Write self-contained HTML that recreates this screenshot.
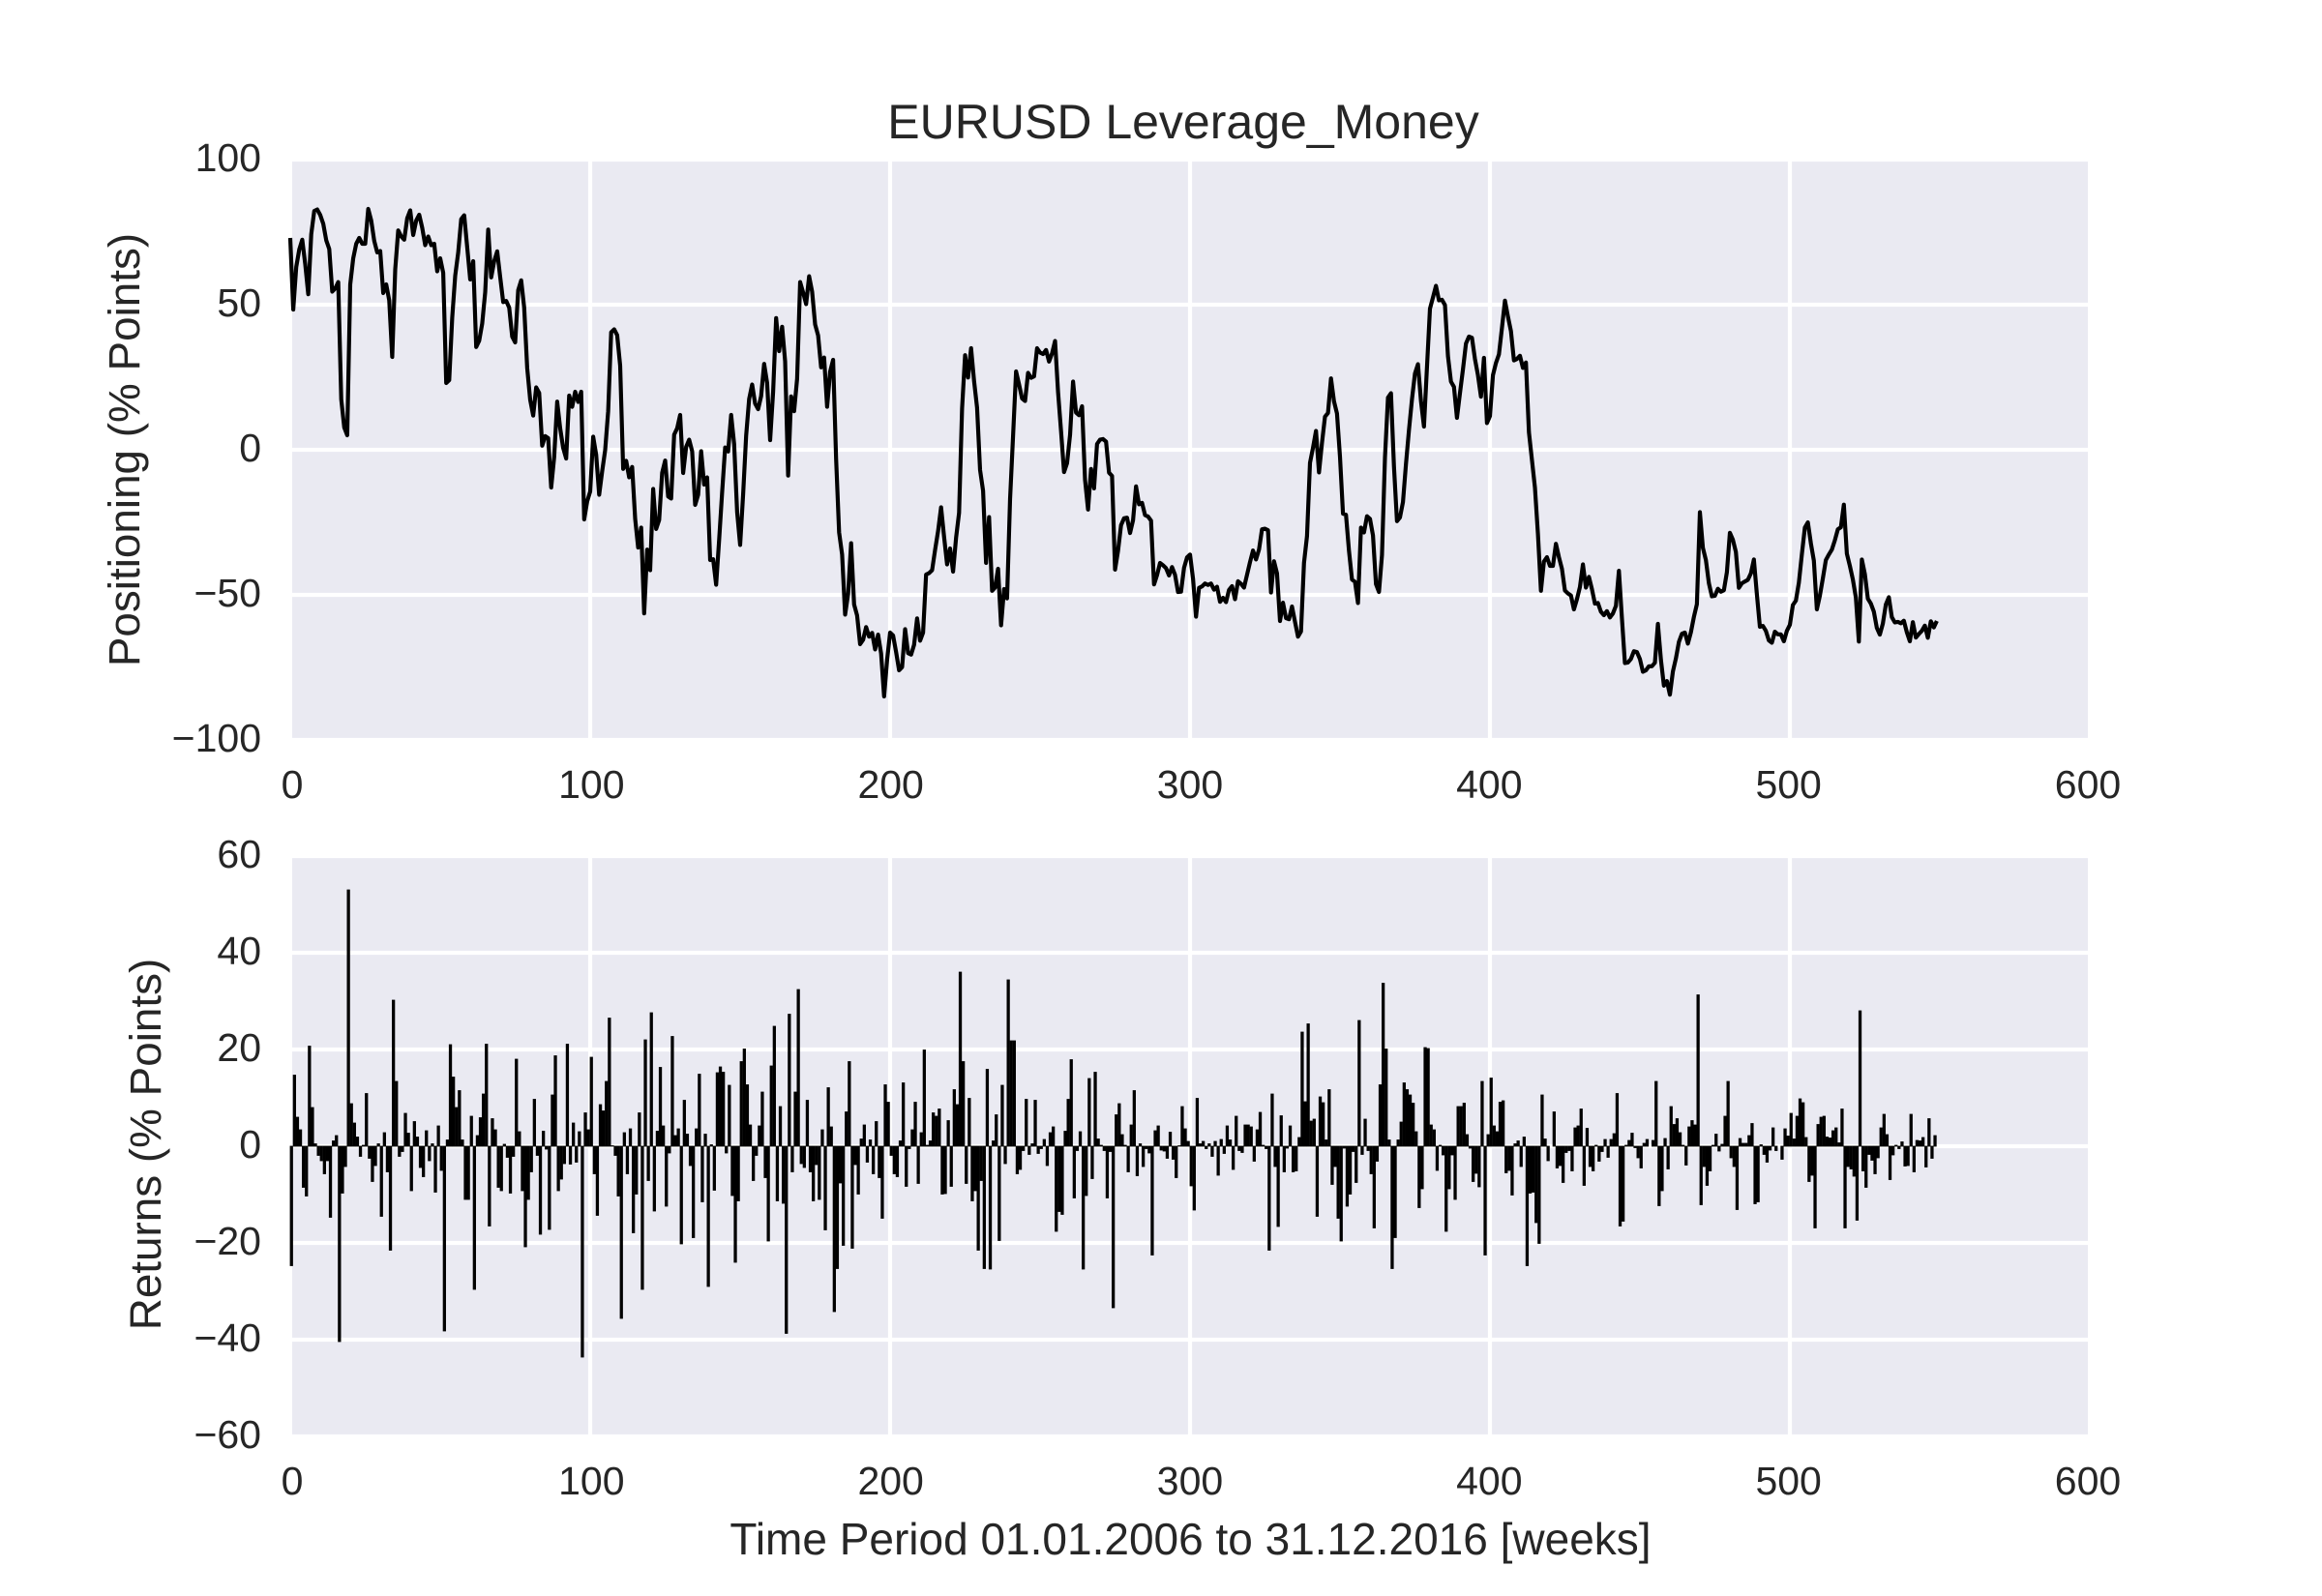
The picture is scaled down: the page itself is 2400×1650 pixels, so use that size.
<!DOCTYPE html>
<html lang="en">
<head>
<meta charset="utf-8">
<title>EURUSD Leverage_Money</title>
<style>
html,body{margin:0;padding:0;background:#fff;}
body{width:2400px;height:1650px;overflow:hidden;}
svg{display:block;}
text{font-family:"Liberation Sans",Arial,sans-serif;fill:#262626;}
</style>
</head>
<body>
<svg id="chart" xmlns="http://www.w3.org/2000/svg" width="2400" height="1650" viewBox="0 0 2400 1650">
  <rect x="0" y="0" width="2400" height="1650" fill="#ffffff"/>
  <text x="1223" y="143" font-size="50" text-anchor="middle">EURUSD Leverage_Money</text>
  <text transform="translate(144,465) rotate(-90)" font-size="45.83" text-anchor="middle">Positioning (% Points)</text>
  <text transform="translate(166,1183) rotate(-90)" font-size="45.83" text-anchor="middle">Returns (% Points)</text>
  <text x="1230.5" y="1607" font-size="46" text-anchor="middle">Time Period 01.01.2006 to 31.12.2016 [weeks]</text>
  <g id="top-axes"></g>
  <g id="bottom-axes"></g>
</svg>
<script>
const xTickValues = [0,100,200,300,400,500,600];
const topYTickValues = [100,50,0,-50,-100];
const bottomYTickValues = [60,40,20,0,-20,-40,-60];

const positioning = [
73,48.3,63,69,72.4,63.9,53.6,74.3,82.3,82.8,80.9,77.9,72.2,69.2,54.5,55.6,57.8,17.4,7.7,5,57,66,71,73,71,71,83,79,72,68,68.5,54,57,51.5,32,
62.2,75.6,73.5,72.4,79.8,82.5,74,79,81,76.5,70.5,73.5,70.5,71,61.5,66,61,23,24,45.5,60,68,79.5,80.8,69.8,58.7,65,35.4,37.6,43.5,54.3,75.9,59.4,65,68.4,59.5,50.9,51.3,49,39,37,55,58.4,49,28.2,17.2,11.8,21.5,19.6,1.4,4.7,4,-13,-2.5,16.6,7.4,0.6,-3,
18.7,14.8,20,16.5,20,-24,-17.8,-14.4,4.5,-1.7,-15.5,-7.4,-0.1,13.3,40.5,41.5,39.5,29,-6.6,-3.8,-9.5,-5.9,-23.8,-33.7,-26.8,-56.4,-34.4,-41.5,-13.5,-27.3,-24.2,-7.9,-3.7,-16.1,-16.8,5.2,7.4,12,-8,1,3.5,-0.5,-19,-15.5,-0.5,-12,-9.5,-38,-37.7,-46.5,-31,-14.6,0.8,-0.6,12,2,-21.5,-32.8,-15.3,4.8,17.5,22.5,15.9,
14,18.5,29.6,23,3.3,20,45.4,34,42.4,30.5,-8.9,18.4,13.3,24.5,57.8,54.2,50.2,59.8,54.5,43.2,39.4,28.4,31.8,14.8,26.9,31,-3.2,-28.5,-36.1,-56.8,
-49.7,-32.2,-53.3,-57.1,-67,-65.5,-61.1,-64.4,-63.1,-68.8,-63.7,-70.2,-85,-72.4,-63,-64,-69.7,-76,-74.9,-61.8,-70.1,-70.6,-67.2,-58.1,-65.8,-63,-43,-42.5,-41.5,-34.5,-28,-19.8,-30,-39.5,-34,-42,-30.3,-21.7,14.3,32.6,24.9,35,23.7,14.5,-7,-14.1,-39,-23.2,-48.6,-47.5,-41,-60.5,-48,-51.2,-17,4.8,27,22.5,17.7,16.8,26.5,24.8,25.3,35,33.5,33,34.4,30.4,33.2,37.5,19.9,6.4,-7.7,-4.6,5.1,23.5,12.8,11.9,15,-10.4,-20.6,-6.6,-13.3,2,3.5,3.7,2.8,-7.9,-9,-41.3,
-34.8,-26,-23.6,-23.4,-28.7,-24.3,-12.6,-18.8,-18.3,-22.5,-23,-24.4,-46.4,-43.2,-39,-39.8,-40.8,-43.3,-40.4,-43.1,-49,-48.9,-40.7,-37.1,-36.1,-44.4,-57.5,-47.6,-47.1,-46.1,-46.6,-46.1,-48.2,-47.2,-52.4,-51,-52.5,-48.3,-47,-51.5,-45.3,-46.2,-47.5,-43.1,-38.7,-34.7,-37.8,-34.4,-27.4,-27.2,-27.7,-49.2,-38.4,-42.6,-59,-52.7,-58,-58.4,-54,-59.3,-64.4,-62.6,-39,-29.8,-4.5,0.7,6.5,-7.8,2.4,11.4,12.7,24.6,16.7,12.5,-2.4,-22,-22.4,-34.8,-44.7,-45.5,-52.8,-26.8,-28.5,-22.9,-23.8,-29.5,-46.3,-49,-36.3,-2.6,18,19.5,-5.8,-24.6,-23.3,-18,-4.9,6.8,17.4,26.3,29.5,16.8,8,28.4,48.6,52.5,56.5,
51.5,51.7,49.9,32.3,23.5,21.7,11,19.5,27.7,36.6,39,38.6,31.3,25.7,18.3,31.7,9.2,11.6,25.7,29.9,32.9,42,51.4,45.9,40.9,30.8,31.3,32.4,28.2,30.1,6,-3.5,-13,-29,-48.6,-38.5,-37,-40,-40,-32.4,-37,-41,-48.5,-49.5,-50.2,-55,-51.5,-47.3,-39.5,-47.5,-43.8,-48,-53,-52.8,-55.8,-57,-55.6,-57.8,-56.4,-53.8,-41.7,-58,-73.5,-73.3,-72.1,-69.4,-69.7,-72.1,-76.5,-76,-74.6,-74.6,-73.4,-60,-72.3,-81.3,-79.7,-84.4,-76.4,-71.9,-66.2,-63.4,-63,-66.8,-62.9,-57.6,-53.2,-21.5,-33.8,-38,-46,-50.5,-50.3,-47.9,-48.9,-48.4,-42.2,-28.6,-31,-35.2,-47.6,-46,-45.4,-44.8,-42.6,-37.8,-49.8,-61,-60.7,-62.4,-65.7,-66.5,-62.7,-63.6,-63.6,-66,-62.4,-60.3,-53.5,-52,-45.8,-36,-26.8,-25,-32.2,-38.2,-55,-50.3,-44.3,-38,-36.1,-34.4,-31.2,-27.4,-26.7,-18.9,-35.8,-40,-44.7,-50.9,-66.1,-37.8,-42.8,-51.3,-53,-55.8,-61.4,-63.7,-59.9,-53.3,-50.8,-57.7,-59.5,-59.3,-59.8,-58.9,-62.9,-66,-59.4,-64.7,-63.5,-62.4,-60.6,-64.8,-59.1,-61.2,-59
];

const returnsPct = [
-24.7,14.7,6,3.4,-8.5,-10.3,20.7,8,0.5,-1.9,
-3,-5.7,-3,-14.7,1.1,2.2,-40.4,-9.7,-4.2,53,
8.8,4.8,1.9,-2.1,0.2,10.9,-2.5,-7.3,-4,0.5,
-14.5,2.8,-5.3,-21.5,30.2,13.4,-2.1,-1.1,6.8,2.7,
-9.2,5.1,1.9,-4.4,-6.3,3.2,-3,0.5,-9.5,4.2,
-5,-38.2,1.3,21,14.3,8,11.5,1.3,-11,-11,
6.2,-29.6,2.2,5.9,10.8,21.1,-16.5,5.7,3.4,-8.5,
-9.2,0.4,-2.3,-9.7,-2.1,18,3,-9.2,-20.8,-11,
-5.3,9.7,-1.9,-18.2,3.1,-0.6,-17.2,10.6,18.7,-9.2,
-6.8,-3.6,21.1,-3.7,4.8,-3.3,3,-43.6,6.9,3.4,
18.4,-5.7,-14.3,8.6,7.3,13.4,26.5,0.1,-1.9,-10.3,
-35.6,2.8,-5.7,3.6,-17.9,-9.9,6.9,-29.6,22,-7.1,
27.6,-13.4,3.1,16.3,4.2,-12.4,-1.4,22.7,2.2,3.6,
-20.2,9.5,2.5,-4,-18.9,3.6,14.9,-11.5,2.5,-29,
0.3,-9.1,15.2,16.4,15.3,-1.4,12.6,-10.2,-24,-11.3,
17.5,20.1,12.7,4.4,-7.1,-1.9,4.2,11.2,-6.5,-19.6,
16.6,24.8,-11.3,8.2,-11.8,-38.7,27.3,-5.3,11.2,32.4,
-3.6,-4.4,9.5,-5.3,-11.3,-3.8,-11,3.4,-17.3,12.1,
4,-34.2,-25.3,-7.6,-20.5,7.1,17.5,-21.1,-3.8,-9.9,
1.5,4.4,-3.3,1.3,-5.7,5.1,-6.5,-14.9,12.7,9.1,
-1.9,-5.7,-6.3,1.1,13.1,-8.3,-0.5,3.4,9.1,-7.7,
2.8,19.9,0.2,1.1,6.9,6.2,7.7,-9.9,-9.8,5.3,
-8.3,11.7,8.6,36,17.5,-7.7,9.9,-11.3,-9.2,-21.5,
-7.1,-25.3,15.9,-25.4,1.1,6.5,-19.5,12.6,-3.6,34.4,
21.8,21.8,-5.7,-4.8,-0.9,9.7,-1.7,0.5,9.5,-1.5,
-0.5,1.4,-4,2.8,4,-17.6,-13.5,-14.1,3.1,9.7,
17.9,-10.7,-0.9,3,-25.4,-10.2,14,-6.7,15.3,1.5,
0.2,-0.9,-10.7,-1.1,-33.4,6.5,8.8,2.4,0.2,-5.3,
4.4,11.5,-6.1,0.5,-4.2,-0.5,-1.4,-22.5,3.2,4.2,
-0.8,-1,-2.5,2.9,-2.7,-6.5,0.1,8.2,3.6,1,
-8.2,-13.2,9.9,0.5,1,-0.5,0.5,-2.1,1,-6,
1.4,-1.5,4.2,1.3,-4.8,6.2,-0.9,-1.3,4.4,4.4,
4,-3.1,3.4,7,0.2,-0.5,-21.5,10.8,-4.2,-16.6,
6.3,-5.3,-0.4,4.2,-5.3,-5.1,1.8,23.6,9.2,25.3,
5.2,5.6,-14.5,10.2,9,1.3,11.7,-7.9,-4.2,-14.9,
-19.6,-0.4,-12.4,-9.9,-1.1,-7.5,26,-1.7,5.6,-0.9,
-5.7,-16.9,-3.1,12.7,33.7,20.1,1.3,-25.3,-18.9,1.3,
5,13.1,11.7,10.6,8.9,3,-12.7,-8.8,20.4,20.2,
4.4,3.4,-5,0.2,-1.8,-17.6,-8.8,-1.8,-11,8.2,
8.2,8.9,2.4,-0.4,-7.3,-5.6,-8.4,13.4,-22.5,2.4,
14.1,4.2,3,9.1,9.4,-5.5,-5,-10.1,0.5,1.1,
-4.2,1.9,-24.7,-9.7,-9.5,-15.8,-20.1,10.6,1.5,-3,
0,7.1,-4.5,-4,-7.5,-1.3,-0.9,-5.1,3.8,4.2,
7.7,-8.1,3.7,-4.2,-5.1,0.2,-3.1,-1.1,1.4,-2.3,
1.4,2.6,10.9,-16.5,-15.5,0.2,1.2,2.7,-0.3,-2.4,
-4.5,0.6,1.4,0,1.2,13.4,-12.3,-9.2,1.6,-4.7,
8.2,4.5,5.7,2.8,0.2,-3.9,4,5.3,4.4,31.3,
-12.1,-4.2,-8.1,-5.1,0.2,2.5,-1,0.4,6.2,13.4,
-2.4,-4.2,-13.1,1.6,0.6,0.6,2.2,4.7,-11.9,-11.5,
0.3,-1.7,-3.3,-0.8,3.8,-0.9,0,-2.7,3.6,2.1,
6.8,1.5,6.2,9.8,9,1.8,-7.3,-6,-16.9,4.5,
6,6.2,1.9,1.7,3.2,3.8,0.7,7.7,-16.9,-4.2,
-4.7,-6.2,-15.3,28,-5.1,-8.5,-1.7,-2.9,-5.7,-2.4,
3.8,6.6,2.4,-6.9,-1.8,0.2,-0.5,0.9,-4.1,-4,
6.6,-5.3,1.2,1.1,1.8,-4.3,5.7,-2.5,2.2
];

const NS = 'http://www.w3.org/2000/svg';
const plotLeft = 302, plotRight = 2158;
const xScale = v => plotLeft + (v / 600) * (plotRight - plotLeft);
const markX = v => 300 + v * 3.1;
const topYScale = v => 165 + ((100 - v) / 200) * 600;
const bottomYScale = v => 885 + ((60 - v) / 120) * 600;

function make(tag, attrs, parent) {
  const el = document.createElementNS(NS, tag);
  for (const k in attrs) el.setAttribute(k, attrs[k]);
  parent.appendChild(el);
  return el;
}
const fmt = v => String(v).replace('-', '\u2212');

function drawPanel(group, yTop, yBottom, yScale, yTicks, prefix) {
  const bg = make('rect', {x: plotLeft, y: yTop, width: plotRight - plotLeft, height: yBottom - yTop, fill: '#EAEAF2'}, group);
  
  
  yTicks.forEach(t => {
    const g = make('line', {x1: plotLeft, x2: plotRight, y1: yScale(t), y2: yScale(t), stroke: '#fff', 'stroke-width': 4.17}, group);
    
    
    const lab = make('text', {x: 270, y: yScale(t) + 12, 'font-size': 41, 'text-anchor': 'end'}, group);
    
    
    lab.textContent = fmt(t);
  });
  xTickValues.forEach(t => {
    if (t > 0 && t < 600) {
      const g = make('line', {x1: markX(t), x2: markX(t), y1: yTop, y2: yBottom, stroke: '#fff', 'stroke-width': 4.17}, group);
      
      
    }
    const lab = make('text', {x: xScale(t), y: yBottom + 60, 'font-size': 41, 'text-anchor': 'middle'}, group);
    
    
    lab.textContent = fmt(t);
  });
}

const topGroup = document.getElementById('top-axes');
const bottomGroup = document.getElementById('bottom-axes');
drawPanel(topGroup, 165, 765, topYScale, topYTickValues, 'positioning');
drawPanel(bottomGroup, 885, 1485, bottomYScale, bottomYTickValues, 'returns');

const linePoints = positioning.map((v, i) => markX(i).toFixed(2) + ',' + topYScale(v).toFixed(2)).join(' ');
const lineEl = make('polyline', {points: linePoints, fill: 'none', stroke: '#000', 'stroke-width': 4.17, 'stroke-linejoin': 'round'}, topGroup);



returnsPct.forEach((v, i) => {
  const y0 = bottomYScale(0), y1 = bottomYScale(v);
  const w = markX(0.8) - markX(0);
  const bar = make('rect', {x: markX(i), y: Math.min(y0, y1), width: w, height: Math.abs(y1 - y0), fill: '#000', stroke: '#000', 'stroke-width': 0.8}, bottomGroup);
  
  
});
</script>
</body>
</html>
